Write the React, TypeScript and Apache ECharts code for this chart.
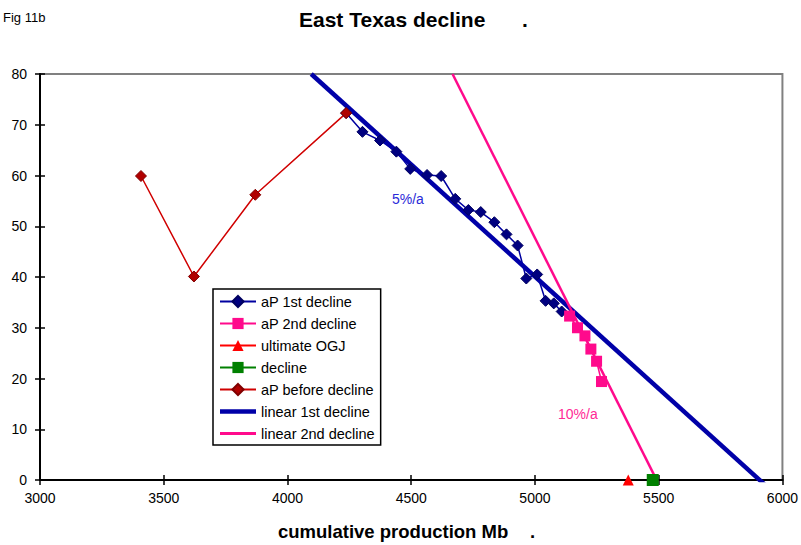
import React, { useEffect, useRef } from "react";
import * as echarts from "echarts";

// Cumulative production (Mb) and annual production for each phase
const beforeX = [3408, 3622, 3870, 4237];
const beforeY = [59.9, 40.1, 56.2, 72.3];

const firstX = [4237, 4303, 4374, 4440, 4496, 4564, 4621, 4678, 4731, 4781, 4836, 4885, 4930, 4965, 5009, 5043, 5076, 5108];
const firstY = [72.3, 68.6, 66.9, 64.7, 61.3, 60.1, 59.9, 55.4, 53.2, 52.8, 50.8, 48.4, 46.2, 39.7, 40.5, 35.3, 34.8, 33.2];

const secondX = [5140, 5172, 5202, 5226, 5249, 5269];
const secondY = [32.3, 30.0, 28.4, 25.8, 23.4, 19.4];

const ultimateX = [5377];
const ultimateY = [0];

const declineX = [5476];
const declineY = [0];

// Linear fits of the two decline phases
const linear1X = [4096, 5935];
const linear1Y = [80, -1.2];
const linear2X = [4667, 5500];
const linear2Y = [80, -0.8];

const xTicks = { min: 3000, max: 6000, step: 500 };
const yTicks = { min: 0, max: 80, step: 10 };

const zip = (xs: number[], ys: number[]) => xs.map((x, i) => [x, ys[i]]);

const FONT = "Liberation Sans, Arial, sans-serif";

export default function App() {
  const ref = useRef<HTMLDivElement>(null);

  useEffect(() => {
    document.body.style.margin = "0";
    if (!ref.current) return;
    const chart = echarts.init(ref.current, null, { renderer: "svg" });

    const axisBase = (k: typeof xTicks) => ({
      type: "value" as const,
      min: k.min,
      max: k.max,
      interval: k.step,
      splitLine: { show: false },
    });

    chart.setOption({
      animation: false,
      backgroundColor: "#ffffff",
      grid: {
        left: 40,
        right: 13,
        top: 74,
        bottom: 65,
        show: true,
        borderColor: "#808080",
        borderWidth: 2,
        backgroundColor: "transparent",
      },
      xAxis: [
        {
          ...axisBase(xTicks),
          position: "bottom",
          axisLine: { show: true, onZero: false, lineStyle: { color: "#000", width: 2 } },
          axisTick: { show: true, length: 5, lineStyle: { color: "#000", width: 1.5 } },
          axisLabel: {
            color: "#000",
            fontSize: 14,
            fontFamily: FONT,
            margin: 11,
            formatter: (v: number) => String(v),
          },
        },
        {
          ...axisBase(xTicks),
          position: "bottom",
          axisLine: { show: false, onZero: false },
          axisTick: { show: true, inside: true, length: 5, lineStyle: { color: "#000", width: 1.5 } },
          axisLabel: { show: false },
        },
      ],
      yAxis: [
        {
          ...axisBase(yTicks),
          position: "left",
          axisLine: { show: true, onZero: false, lineStyle: { color: "#000", width: 2 } },
          axisTick: { show: true, length: 5, lineStyle: { color: "#000", width: 1.5 } },
          axisLabel: { color: "#000", fontSize: 14, fontFamily: FONT, margin: 13 },
        },
        {
          ...axisBase(yTicks),
          position: "left",
          axisLine: { show: false, onZero: false },
          axisTick: { show: true, inside: true, length: 5, lineStyle: { color: "#000", width: 1.5 } },
          axisLabel: { show: false },
        },
      ],
      legend: {
        orient: "vertical",
        left: 213,
        top: 289,
        backgroundColor: "#ffffff",
        borderColor: "#000",
        borderWidth: 1.5,
        borderRadius: 0,
        padding: [5, 6, 4, 6],
        itemWidth: 36,
        itemHeight: 14,
        itemGap: 7,
        textStyle: { fontSize: 14.5, fontFamily: FONT, color: "#000" },
        data: [
          "aP 1st decline",
          "aP 2nd decline",
          "ultimate OGJ",
          "decline",
          "aP before decline",
          { name: "linear 1st decline", icon: "path://M0,0L36,0L36,4.5L0,4.5Z" },
          { name: "linear 2nd decline", icon: "path://M0,0L36,0L36,3L0,3Z" },
        ],
      },
      series: [
        {
          name: "aP 1st decline",
          type: "line",
          data: zip(firstX, firstY),
          symbol: "diamond",
          symbolSize: 11,
          itemStyle: { color: "#000080", borderColor: "#000060", borderWidth: 1 },
          lineStyle: { color: "#0000a0", width: 1.5 },
        },
        {
          name: "aP 2nd decline",
          type: "line",
          data: zip(secondX, secondY),
          symbol: "rect",
          symbolSize: 11,
          itemStyle: { color: "#ff0a8c" },
          lineStyle: { color: "#ff0a8c", width: 1.5 },
        },
        {
          name: "ultimate OGJ",
          type: "line",
          data: zip(ultimateX, ultimateY),
          symbol: "triangle",
          symbolSize: 11,
          itemStyle: { color: "#ff0000" },
          lineStyle: { color: "#ff0000", width: 1.5 },
        },
        {
          name: "decline",
          type: "line",
          data: zip(declineX, declineY),
          symbol: "rect",
          symbolSize: 12,
          itemStyle: { color: "#008000" },
          lineStyle: { color: "#008000", width: 1.5 },
        },
        {
          name: "aP before decline",
          type: "line",
          data: zip(beforeX, beforeY),
          symbol: "diamond",
          symbolSize: 11,
          itemStyle: { color: "#b00000", borderColor: "#800000", borderWidth: 1 },
          lineStyle: { color: "#d00000", width: 1.5 },
        },
        {
          name: "linear 1st decline",
          type: "line",
          data: zip(linear1X, linear1Y),
          symbol: "none",
          showSymbol: false,
          itemStyle: { color: "#0000a8" },
          lineStyle: { color: "#0000a8", width: 4.5 },
        },
        {
          name: "linear 2nd decline",
          type: "line",
          data: zip(linear2X, linear2Y),
          symbol: "none",
          showSymbol: false,
          itemStyle: { color: "#ff0a8c" },
          lineStyle: { color: "#ff0a8c", width: 2.5 },
        },
      ],
      graphic: [
        {
          type: "text",
          left: 3,
          top: 11,
          style: { text: "Fig 11b", fontSize: 13, fontFamily: FONT, fill: "#000" },
        },
        {
          type: "text",
          left: 299,
          top: 9,
          style: { text: "East Texas decline", fontSize: 21, fontWeight: "bold", fontFamily: FONT, fill: "#000" },
        },
        {
          type: "text",
          left: 522,
          top: 9,
          style: { text: ".", fontSize: 21, fontWeight: "bold", fontFamily: FONT, fill: "#000" },
        },
        {
          type: "text",
          left: 278,
          top: 522,
          style: { text: "cumulative production Mb", fontSize: 18.5, fontWeight: "bold", fontFamily: FONT, fill: "#000" },
        },
        {
          type: "text",
          left: 530,
          top: 522,
          style: { text: ".", fontSize: 18.5, fontWeight: "bold", fontFamily: FONT, fill: "#000" },
        },
        {
          type: "text",
          left: 392,
          top: 192,
          style: { text: "5%/a", fontSize: 14, fontFamily: FONT, fill: "#2a2ad8" },
        },
        {
          type: "text",
          left: 558,
          top: 407,
          style: { text: "10%/a", fontSize: 14, fontFamily: FONT, fill: "#ff2a96" },
        },
      ],
    });

    return () => chart.dispose();
  }, []);

  return <div ref={ref} style={{ width: 801, height: 545 }} />;
}
